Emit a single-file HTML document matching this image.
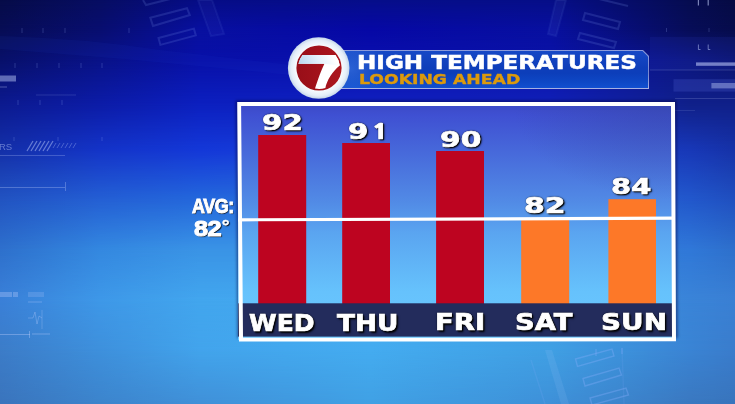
<!DOCTYPE html>
<html><head><meta charset="utf-8">
<style>
*{margin:0;padding:0;box-sizing:border-box}
html,body{width:735px;height:404px;overflow:hidden}
body{position:relative;font-family:"DejaVu Sans","Liberation Sans",sans-serif;background:#2a6ad8}
.bgb{position:absolute;left:0;width:735px}
.abs{position:absolute}
#banner{left:340px;top:50px;width:309px;height:39px;
 clip-path:polygon(0 0,303px 0,309px 6px,309px 39px,0 39px);
 background:linear-gradient(180deg,#8c9cdc 0%,#7888d0 60%,#a8b2e4 100%)}
#banner .in{position:absolute;left:0;top:1px;right:1px;bottom:1.5px;
 clip-path:polygon(0 0,302.5px 0,308px 5.5px,308px 40px,0 40px);
 background:radial-gradient(ellipse 40px 30px at 10px 18px,rgba(60,120,230,.6),rgba(60,120,230,0)),linear-gradient(180deg,#1648c6 0%,#0e3eba 45%,#0c3eba 60%,#0e48c6 85%,#1250d0 100%)}
.t1,.t2,.num,.day,.avg{position:absolute;white-space:nowrap;line-height:1;font-weight:bold}
.t1 span,.t2 span,.num span,.day span,.avg span{display:inline-block;transform-origin:0 0}
.t1{color:#fff;-webkit-text-stroke:0.5px #fff}
.t2{color:#dc9a0c;-webkit-text-stroke:0.4px #dc9a0c}
.num{color:#fff;-webkit-text-stroke:0.7px #fff;text-shadow:1px 1px 2px #000,0 0 1.5px #000,1px 1px 1px #000}
.day{color:#fff;-webkit-text-stroke:0.7px #fff;text-shadow:1.5px 1.5px 2px #000,0 0 2px #000,1px 1px 1px #000}
.avg{color:#fff;-webkit-text-stroke:1px #fff;letter-spacing:-0.5px;font-family:"Liberation Sans",sans-serif;text-shadow:1px 1px 1px #000}
.dg{font-size:0.78em;vertical-align:top;position:relative;top:0px;margin-left:0.5px;-webkit-text-stroke:0.4px #fff;font-weight:bold}
.one{font-family:"NanumGothic",sans-serif;font-weight:800;font-size:0.94em;margin-left:2.5px}

</style></head><body>
<div class="bgb" style="top:0px;height:30px;background:linear-gradient(90deg,#060b48 0px,#070d62 100px,#060c86 200px,#060e8a 370px,#060e88 550px,#060c50 690px,#060b44 735px)"></div>
<div class="bgb" style="top:0px;height:30px;background:linear-gradient(90deg,#070d55 0px,#080e70 100px,#0810a0 200px,#0608a6 370px,#0810a0 550px,#070d58 690px,#060c4c 735px);-webkit-mask-image:linear-gradient(180deg,transparent,#000);mask-image:linear-gradient(180deg,transparent,#000)"></div>
<div class="bgb" style="top:30px;height:30px;background:linear-gradient(90deg,#070d55 0px,#080e70 100px,#0810a0 200px,#0608a6 370px,#0810a0 550px,#070d58 690px,#060c4c 735px)"></div>
<div class="bgb" style="top:30px;height:30px;background:linear-gradient(90deg,#08106a 0px,#091288 100px,#0810a8 200px,#0a10ae 370px,#0a12a8 550px,#0c1680 690px,#0b1470 735px);-webkit-mask-image:linear-gradient(180deg,transparent,#000);mask-image:linear-gradient(180deg,transparent,#000)"></div>
<div class="bgb" style="top:60px;height:45px;background:linear-gradient(90deg,#08106a 0px,#091288 100px,#0810a8 200px,#0a10ae 370px,#0a12a8 550px,#0c1680 690px,#0b1470 735px)"></div>
<div class="bgb" style="top:60px;height:45px;background:linear-gradient(90deg,#0c1a90 0px,#0c1ca8 100px,#0c20c0 200px,#1020c0 370px,#1020b8 550px,#10208a 690px,#10208a 735px);-webkit-mask-image:linear-gradient(180deg,transparent,#000);mask-image:linear-gradient(180deg,transparent,#000)"></div>
<div class="bgb" style="top:105px;height:45px;background:linear-gradient(90deg,#0c1a90 0px,#0c1ca8 100px,#0c20c0 200px,#1020c0 370px,#1020b8 550px,#10208a 690px,#10208a 735px)"></div>
<div class="bgb" style="top:105px;height:45px;background:linear-gradient(90deg,#1430a8 0px,#1434c8 100px,#1438d8 200px,#1a40d8 370px,#1a40d0 550px,#1838b8 690px,#1632a8 735px);-webkit-mask-image:linear-gradient(180deg,transparent,#000);mask-image:linear-gradient(180deg,transparent,#000)"></div>
<div class="bgb" style="top:150px;height:50px;background:linear-gradient(90deg,#1430a8 0px,#1434c8 100px,#1438d8 200px,#1a40d8 370px,#1a40d0 550px,#1838b8 690px,#1632a8 735px)"></div>
<div class="bgb" style="top:150px;height:50px;background:linear-gradient(90deg,#2254c2 0px,#2460d4 100px,#2468dc 200px,#2c70dc 370px,#2a6cd8 550px,#2258cc 690px,#2050c0 735px);-webkit-mask-image:linear-gradient(180deg,transparent,#000);mask-image:linear-gradient(180deg,transparent,#000)"></div>
<div class="bgb" style="top:200px;height:50px;background:linear-gradient(90deg,#2254c2 0px,#2460d4 100px,#2468dc 200px,#2c70dc 370px,#2a6cd8 550px,#2258cc 690px,#2050c0 735px)"></div>
<div class="bgb" style="top:200px;height:50px;background:linear-gradient(90deg,#2e70cc 0px,#3488e0 100px,#3a94e6 200px,#3a94e6 370px,#3480dc 550px,#3078d8 690px,#2e70cc 735px);-webkit-mask-image:linear-gradient(180deg,transparent,#000);mask-image:linear-gradient(180deg,transparent,#000)"></div>
<div class="bgb" style="top:250px;height:50px;background:linear-gradient(90deg,#2e70cc 0px,#3488e0 100px,#3a94e6 200px,#3a94e6 370px,#3480dc 550px,#3078d8 690px,#2e70cc 735px)"></div>
<div class="bgb" style="top:250px;height:50px;background:linear-gradient(90deg,#3a80d8 0px,#3e98e8 100px,#42a6ee 200px,#44aaf0 370px,#3e98e4 550px,#3a84d8 690px,#3a80d4 735px);-webkit-mask-image:linear-gradient(180deg,transparent,#000);mask-image:linear-gradient(180deg,transparent,#000)"></div>
<div class="bgb" style="top:300px;height:50px;background:linear-gradient(90deg,#3a80d8 0px,#3e98e8 100px,#42a6ee 200px,#44aaf0 370px,#3e98e4 550px,#3a84d8 690px,#3a80d4 735px)"></div>
<div class="bgb" style="top:300px;height:50px;background:linear-gradient(90deg,#3c7cc8 0px,#3e90dc 100px,#42a4ec 200px,#44acf0 370px,#40a0e4 550px,#3a84d4 690px,#3a7ccc 735px);-webkit-mask-image:linear-gradient(180deg,transparent,#000);mask-image:linear-gradient(180deg,transparent,#000)"></div>
<div class="bgb" style="top:350px;height:54px;background:linear-gradient(90deg,#3c7cc8 0px,#3e90dc 100px,#42a4ec 200px,#44acf0 370px,#40a0e4 550px,#3a84d4 690px,#3a7ccc 735px)"></div>
<div class="bgb" style="top:350px;height:54px;background:linear-gradient(90deg,#3a74bc 0px,#3c84cc 100px,#4090d8 200px,#40a0e4 370px,#3e90d8 550px,#3a78c0 690px,#3874bc 735px);-webkit-mask-image:linear-gradient(180deg,transparent,#000);mask-image:linear-gradient(180deg,transparent,#000)"></div>
<svg class="abs" style="left:0;top:0" width="735" height="404" viewBox="0 0 735 404">
 <defs><filter id="hb" x="-10%" y="-10%" width="120%" height="120%"><feGaussianBlur stdDeviation="0.6"/></filter></defs>
 <g fill="none" stroke="#8fb0ff">
  <!-- swoosh band top-left -->
  <path d="M0 36 Q80 38 160 50 L300 66 L300 76 Q150 60 0 49 Z" fill="#3050e0" fill-opacity="0.07" stroke="none"/>
  <path d="M650 37 L735 37 L735 70 L650 70 Z" fill="#3040d0" fill-opacity="0.12" stroke="none"/>
  <!-- tilted rects top-left -->
  <g stroke-opacity="0.16" stroke-width="2" filter="url(#hb)">
   <path d="M150.3 17.7 L187 8.2 L189.8 15 L153 25.9 Z"/>
   <path d="M158.5 38 L193.9 28.6 L195.8 35.4 L160.4 44.9 Z"/>
   <path d="M143 0 L146 5 L170 -1"/>
   <path d="M198 0 L212 0 L224 34 L211 36 Z" fill="#a0b8ff" fill-opacity="0.035" stroke-opacity="0.08"/>
  </g>
  <!-- tilted rects top-right -->
  <g stroke-opacity="0.16" stroke-width="2" filter="url(#hb)">
   <path d="M585 13 L620 22 L618 29 L583 20 Z"/>
   <path d="M580 33 L616 42 L614 48 L578 39 Z"/>
   <path d="M595 -2 L628 6"/>
   <path d="M556 0 L566 0 L556 36 L548 34 Z" fill="#a0b8ff" fill-opacity="0.06" stroke-opacity="0.08"/>
  </g>
  <!-- tilted rects bottom-right -->
  <g stroke-opacity="0.32" stroke-width="1.4">
   <path d="M575.5 359 L612 349 L614 356 L577.5 366.5 Z"/>
   <path d="M583 378.5 L619 368 L621.5 375 L585 386 Z"/>
   <path d="M590 398 L626 388 L628.5 395 L592 405 Z"/>
   <path d="M545 350 L552 350 L569 404 L561 404 Z" fill="#b0d0ff" fill-opacity="0.12" stroke="none"/>
   <path d="M531 360 L545 404" stroke-opacity="0.15"/>
   <path d="M622 348 L624 404" stroke-opacity="0.12"/>
   <path d="M596 349 L596 356 M622 348 L622 354" stroke-opacity="0.3"/>
  </g>
 </g>
 <g fill="#c8d4ff">
  <!-- left bars -->
  <rect x="0" y="75.5" width="16" height="6" fill-opacity="0.45"/>
  <rect x="0" y="86.5" width="7" height="1" fill-opacity="0.35"/>
  <!-- hatch -->
  <g fill="none" stroke="#c8d4ff" stroke-opacity="0.45" stroke-width="1.3">
   <path d="M27 151 L33 141 M31 151 L37 141 M35 151 L41 141 M39 151 L45 141 M43 151 L49 141 M47 151 L53 141"/>
   <path d="M53 148 L56 143 M57 148 L60 143 M61 148 L64 143 M65 148 L68 143 M69 148 L72 143 M73 148 L76 143" stroke-opacity="0.3" stroke-width="1"/>
   <path d="M0 155.5 L65 155.5" stroke-opacity="0.25" stroke-width="1"/>
   <path d="M0 187.5 L65 187.5 M65.5 182 L65.5 191" stroke-opacity="0.3" stroke-width="1"/>
   <path d="M36 95 L76 95" stroke-opacity="0.15" stroke-width="1"/>
  </g>
  <text x="-1" y="149.5" font-family="Liberation Sans, sans-serif" font-size="9.5" fill="#c8d4ff" fill-opacity="0.45">RS</text>
  <!-- bottom-left -->
  <rect x="0" y="292" width="12" height="5" fill-opacity="0.3"/>
  <rect x="13" y="292" width="5" height="5" fill-opacity="0.3"/>
  <rect x="28" y="292" width="16" height="5" fill-opacity="0.18"/>
  <path d="M28 318 L33 318 L35 312 L37 324 L39 316 L42 318" fill="none" stroke="#c8d4ff" stroke-opacity="0.35" stroke-width="0.8"/>
  <path d="M42 310 L42 329" fill="none" stroke="#c8d4ff" stroke-opacity="0.3" stroke-width="0.8"/>
  <path d="M0 334.5 L30 334.5 M29.5 331 L29.5 338" fill="none" stroke="#c8d4ff" stroke-opacity="0.35" stroke-width="1"/>
  <rect x="32" y="333" width="18" height="2" fill-opacity="0.18"/>
  <rect x="28" y="301" width="14" height="2" fill-opacity="0.15"/>
  <!-- right side -->
  <rect x="673.5" y="79.2" width="62" height="12.4" fill="#4050c0" fill-opacity="0.35"/>
  <rect x="696" y="62.4" width="39" height="3.4" fill-opacity="0.55"/>
  <rect x="711.4" y="83" width="24" height="5.4" fill-opacity="0.4"/>
  <rect x="650" y="69.5" width="85" height="1" fill-opacity="0.18"/>
  <rect x="675" y="98" width="60" height="1" fill-opacity="0.18"/>
  <rect x="675" y="110" width="20" height="1" fill-opacity="0.12"/>
  <rect x="697.8" y="0" width="1.2" height="5.5" fill-opacity="0.6"/>
  <rect x="707.6" y="0" width="1.2" height="5.5" fill-opacity="0.6"/>
  <path d="M698.4 44.5 L698.4 49.5 L700.5 49.5 M708.2 44.5 L708.2 49.5 L710.3 49.5" fill="none" stroke="#c8d4ff" stroke-opacity="0.5" stroke-width="1"/>
 </g>
 <!-- faint ticks -->
 <g stroke="#9fb4ff" stroke-opacity="0.22" stroke-width="1">
  <path d="M22 28 L22 33 M43 28 L43 33 M65 28 L65 33 M129 28 L129 33 M15 63 L15 68 M37 63 L37 68 M59 63 L59 68 M81 63 L81 68 M102 63 L102 68 M666.5 28 L666.5 32 M709 28 L709 32 M18 100 L18 105 M40 100 L40 105 M62 100 L62 105 M14 137 L14 141 M58 137 L58 141 M102 137 L102 141"/>
 </g>
</svg>

<div id="banner" class="abs"><div class="in"></div></div>
<svg class="abs" style="left:284px;top:34px" width="70" height="70" viewBox="284 34 70 70">
 <defs>
  <radialGradient id="wg" cx="0.5" cy="0.5" r="0.5">
   <stop offset="0.72" stop-color="#f8fcff"/>
   <stop offset="0.9" stop-color="#e4eef8"/>
   <stop offset="1" stop-color="#c4d6ea"/>
  </radialGradient>
  <linearGradient id="rg" x1="0" y1="0" x2="1" y2="0">
   <stop offset="0" stop-color="#980e18"/>
   <stop offset="1" stop-color="#ac161e"/>
  </linearGradient>
  <linearGradient id="bg7" gradientUnits="userSpaceOnUse" x1="302" y1="66" x2="330" y2="50">
   <stop offset="0" stop-color="#bcd8ee"/>
   <stop offset="0.55" stop-color="#e4f2fc"/>
   <stop offset="1" stop-color="#ffffff"/>
  </linearGradient>
 </defs>
 <circle cx="318.7" cy="68" r="30.8" fill="url(#wg)"/>
 <circle cx="319" cy="68" r="22.6" fill="url(#rg)"/>
 <path d="M302.6 54.9 L335.4 54.9 A21 21 0 0 1 339.8 65.4 C332.5 71 326.5 81 325.4 88 A21 21 0 0 1 315 88.6 C317.5 80.5 321.5 69.5 324.4 63.7 L298.45 63.7 A21 21 0 0 1 302.6 54.9 Z" fill="#fff"/>
 <path d="M302.6 54.9 L335.4 54.9 A21 21 0 0 1 339.8 65.4 L324.4 63.7 L298.45 63.7 A21 21 0 0 1 302.6 54.9 Z" fill="url(#bg7)"/>
</svg>
<svg class="abs" style="left:0;top:0" width="735" height="404" viewBox="0 0 735 404">
 <defs>
  <linearGradient id="cg" gradientUnits="userSpaceOnUse" x1="0" y1="106" x2="0" y2="338">
   <stop offset="0" stop-color="#3c4ac8"/>
   <stop offset="0.039" stop-color="#3f50d2"/>
   <stop offset="0.422" stop-color="#528ce6"/>
   <stop offset="0.543" stop-color="#5aa4f0"/>
   <stop offset="0.802" stop-color="#66c2fc"/>
   <stop offset="1" stop-color="#6ac8ff"/>
  </linearGradient>
  <radialGradient id="tr" gradientUnits="userSpaceOnUse" cx="672" cy="104" r="160" gradientTransform="translate(672 104) scale(1 0.6) translate(-672 -104)">
   <stop offset="0" stop-color="#34449c" stop-opacity="0.45"/>
   <stop offset="1" stop-color="#34449c" stop-opacity="0"/>
  </radialGradient>
  <filter id="sh" x="-5%" y="-5%" width="110%" height="110%"><feGaussianBlur stdDeviation="1.5"/></filter>
 </defs>
 <path d="M239 338 L237.2 102 L675 102 L676 338" fill="none" stroke="#020640" stroke-opacity="0.55" stroke-width="3" filter="url(#sh)"/>
 <rect x="238" y="104" width="437" height="236" fill="url(#cg)"/>
 <rect x="238" y="104" width="437" height="236" fill="url(#tr)"/>
 <rect x="258.2" y="135" width="48" height="169" fill="#bd0420"/>
 <rect x="342.2" y="143" width="47.8" height="161" fill="#bd0420"/>
 <rect x="436.1" y="151" width="47.9" height="153" fill="#bd0420"/>
 <rect x="521.2" y="219" width="48" height="85" fill="#fd7828"/>
 <rect x="608.4" y="199.2" width="47.6" height="105" fill="#fd7828"/>
 <path d="M238 218.2 L675 216.6 L675 219.8 L238 221.4 Z" fill="#fff"/>
 <rect x="238" y="303.3" width="437" height="33.3" fill="#232c5c"/>
 <path fill-rule="evenodd" fill="#fff" d="M237.2 102 L675 102 L676 341.3 L239 341.6 Z M241.1 106 L671 106 L672 337.6 L243 337.8 Z"/>
</svg>
<div class="t1" style="left:357.25px;top:53.66px;font-size:18.60px"><span style="transform:scaleX(1.2412)">HIGH TEMPERATURES</span></div>
<div class="t2" style="left:358.88px;top:72.02px;font-size:14.20px"><span style="transform:scaleX(1.2150)">LOOKING AHEAD</span></div>
<div class="num" style="left:262.14px;top:112.23px;font-size:22.00px"><span style="transform:scaleX(1.3320)">92</span></div>
<div class="num" style="left:347.87px;top:120.72px;font-size:22.00px"><span style="transform:scaleX(1.3352)">9<b class="one">1</b></span></div>
<div class="num" style="left:440.34px;top:129.11px;font-size:22.00px"><span style="transform:scaleX(1.3525)">90</span></div>
<div class="num" style="left:523.80px;top:194.85px;font-size:22.00px"><span style="transform:scaleX(1.3630)">82</span></div>
<div class="num" style="left:610.79px;top:175.91px;font-size:22.00px"><span style="transform:scaleX(1.3197)">84</span></div>
<div class="day" style="left:248.71px;top:310.50px;font-size:23.20px"><span style="transform:scaleX(1.0805)">WED</span></div>
<div class="day" style="left:336.59px;top:310.50px;font-size:23.20px"><span style="transform:scaleX(1.1363)">THU</span></div>
<div class="day" style="left:435.39px;top:309.98px;font-size:23.20px"><span style="transform:scaleX(1.1885)">FRI</span></div>
<div class="day" style="left:515.05px;top:309.98px;font-size:23.20px"><span style="transform:scaleX(1.1811)">SAT</span></div>
<div class="day" style="left:600.60px;top:309.98px;font-size:23.20px"><span style="transform:scaleX(1.1999)">SUN</span></div>
<div class="avg" style="left:191.55px;top:195.01px;font-size:21.00px"><span style="transform:scaleX(0.8521)">AVG:</span></div>
<div class="avg" style="left:193.95px;top:218.20px;font-size:22.50px"><span style="transform:scaleX(1.1301)">82<b class="dg">&deg;</b></span></div>

</body></html>
